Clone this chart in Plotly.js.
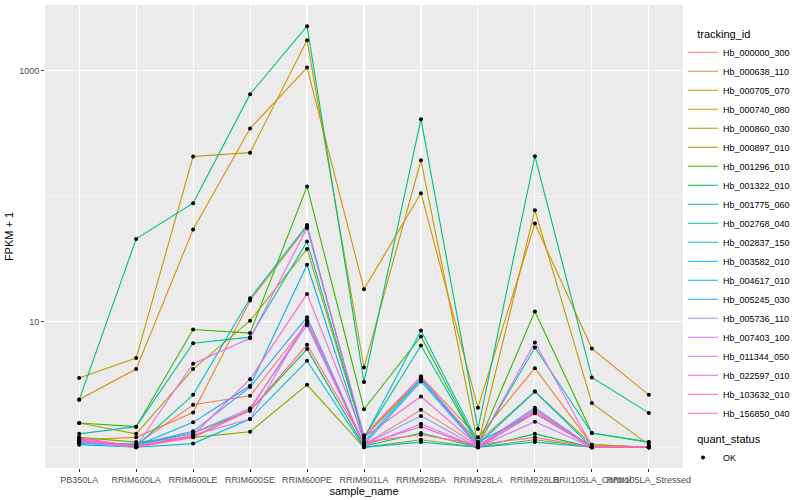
<!DOCTYPE html>
<html>
<head>
<meta charset="utf-8">
<script src="https://cdn.plot.ly/plotly-3.0.1.min.js"></script>
<style>
  html, body { margin: 0; padding: 0; background: #ffffff; }
  #chart { width: 800px; height: 500px; }
</style>
</head>
<body>
<div id="chart"></div>
<script>
// ---- data (FPKM + 1) ----
const sampleNames = ["PB350LA", "RRIM600LA", "RRIM600LE", "RRIM600SE", "RRIM600PE",
  "RRIM901LA", "RRIM928BA", "RRIM928LA", "RRIM928LB", "RRII105LA_Control", "RRII105LA_Stressed"];

const trackingIds = ["Hb_000000_300", "Hb_000638_110", "Hb_000705_070", "Hb_000740_080",
  "Hb_000860_030", "Hb_000897_010", "Hb_001296_010", "Hb_001322_010", "Hb_001775_060",
  "Hb_002768_040", "Hb_002837_150", "Hb_003582_010", "Hb_004617_010", "Hb_005245_030",
  "Hb_005736_110", "Hb_007403_100", "Hb_011344_050", "Hb_022597_010", "Hb_103632_010",
  "Hb_156850_040"];

const hb_000000_300 = [1.12, 1.05, 2.18, 2.57, 9.8, 1.05, 1.99, 1.03, 1.95, 1.02, 1.0];
const hb_000638_110 = [1.15, 1.2, 1.89, 14.8, 57, 1.2, 3.66, 1.2, 4.27, 1.05, 1.0];
const hb_000705_070 = [2.4, 4.2, 54.4, 347, 1063, 18.2, 106, 2.07, 60.7, 6.12, 2.62];
const hb_000740_080 = [3.56, 5.14, 207.6, 223, 1757, 4.32, 194, 1.05, 77.6, 2.25, 1.05];
const hb_000860_030 = [1.56, 1.28, 4.2, 10.2, 38.1, 1.2, 3.5, 1.1, 2.78, 1.05, 1.0];
const hb_000897_010 = [1.2, 1.1, 1.2, 1.33, 3.15, 1.0, 1.15, 1.0, 1.15, 1.0, 1.0];
const hb_001296_010 = [1.56, 1.46, 8.68, 8.13, 120, 2.01, 7.64, 1.05, 12.1, 1.3, 1.1];
const hb_001322_010 = [1.1, 1.05, 1.3, 1.96, 6.06, 1.02, 1.3, 1.0, 1.28, 1.0, 1.0];
const hb_001775_060 = [2.39, 45.8, 88.3, 652, 2270, 3.31, 412, 1.4, 209, 3.6, 1.88];
const hb_002768_040 = [1.28, 1.46, 6.76, 7.55, 43.6, 1.2, 6.47, 1.05, 6.24, 1.3, 1.1];
const hb_002837_150 = [1.08, 1.02, 2.62, 15.4, 59, 1.18, 8.53, 1.1, 1.87, 1.0, 1.0];
const hb_003582_010 = [1.05, 1.0, 1.07, 1.68, 4.89, 1.0, 1.1, 1.0, 1.1, 1.0, 1.0];
const hb_004617_010 = [1.1, 1.03, 1.58, 3.09, 28.5, 1.1, 3.5, 1.05, 2.78, 1.0, 1.0];
const hb_005245_030 = [1.1, 1.05, 1.34, 3.02, 10.9, 1.05, 3.35, 1.02, 2.07, 1.0, 1.0];
const hb_005736_110 = [1.12, 1.02, 1.3, 2.05, 9.4, 1.05, 1.78, 1.0, 1.9, 1.0, 1.0];
const hb_007403_100 = [1.1, 1.0, 1.25, 1.68, 10.3, 1.02, 1.54, 1.0, 1.6, 1.0, 1.0];
const hb_011344_050 = [1.15, 1.02, 4.63, 7.4, 56, 1.25, 3.66, 1.05, 6.84, 1.02, 1.0];
const hb_022597_010 = [1.15, 1.0, 1.25, 3.49, 16.7, 1.2, 2.54, 1.03, 2.0, 1.0, 1.0];
const hb_103632_010 = [1.18, 1.02, 1.22, 2.0, 10.0, 1.05, 1.46, 1.0, 1.87, 1.0, 1.0];
const hb_156850_040 = [1.2, 1.0, 1.2, 1.96, 6.56, 1.1, 1.26, 1.05, 1.2, 1.0, 1.0];

const seriesValues = [hb_000000_300, hb_000638_110, hb_000705_070, hb_000740_080,
  hb_000860_030, hb_000897_010, hb_001296_010, hb_001322_010, hb_001775_060,
  hb_002768_040, hb_002837_150, hb_003582_010, hb_004617_010, hb_005245_030,
  hb_005736_110, hb_007403_100, hb_011344_050, hb_022597_010, hb_103632_010,
  hb_156850_040];

const quantStatus = ["OK"];

// ---- styles ----
const seriesColors = ["#F8766D", "#EA8331", "#D89000", "#C09B00", "#A3A500", "#7CAE00",
  "#39B600", "#00BB4E", "#00BF7D", "#00C1A3", "#00BFC4", "#00BAE0", "#00B0F6", "#35A2FF",
  "#9590FF", "#C77CFF", "#E76BF3", "#FA62DB", "#FF62BC", "#FF6C91"];

const FONT = "Liberation Sans, Arial, Helvetica, sans-serif";

const traces = [];
trackingIds.forEach((id, i) => {
  traces.push({
    type: "scatter", mode: "lines",
    x: sampleNames, y: seriesValues[i],
    name: id,
    line: { color: seriesColors[i], width: 1.1 },
    legend: "legend",
    hoverinfo: "name+x+y"
  });
});

// black points for every observation (quant_status = OK)
const px = [], py = [];
seriesValues.forEach(vals => vals.forEach((v, j) => { px.push(sampleNames[j]); py.push(v); }));
traces.push({
  type: "scatter", mode: "markers",
  x: px, y: py,
  name: quantStatus[0],
  marker: { color: "#000000", size: 4, symbol: "circle" },
  legend: "legend2"
});

const layout = {
  width: 800, height: 500,
  margin: { l: 45, r: 117, t: 5, b: 32 },
  paper_bgcolor: "#FFFFFF",
  plot_bgcolor: "#EBEBEB",
  font: { family: FONT, size: 9, color: "#000000" },
  showlegend: true,
  xaxis: {
    type: "category",
    categoryorder: "array", categoryarray: sampleNames,
    range: [-0.6, sampleNames.length - 0.4],
    showgrid: true, gridcolor: "#FFFFFF", gridwidth: 1.1,
    zeroline: false, showline: false,
    ticks: "outside", ticklen: 3, tickwidth: 1, tickcolor: "#333333",
    tickangle: 0,
    tickfont: { family: FONT, size: 9, color: "#4D4D4D" },
    title: { text: "sample_name", font: { family: FONT, size: 11, color: "#000000" }, standoff: 0 }
  },
  yaxis: {
    type: "log",
    range: [-0.165, 3.525],
    tickmode: "array", tickvals: [10, 1000], ticktext: ["10", "1000"],
    showgrid: true, gridcolor: "#FFFFFF", gridwidth: 1.1,
    minor: { tickmode: "array", tickvals: [1, 100], showgrid: true, gridcolor: "#FFFFFF", gridwidth: 0.55, ticks: "" },
    zeroline: false, showline: false,
    ticks: "outside", ticklen: 3, tickwidth: 1, tickcolor: "#333333",
    tickfont: { family: FONT, size: 9, color: "#4D4D4D" },
    title: { text: "FPKM + 1", font: { family: FONT, size: 11, color: "#000000" }, standoff: 3 }
  },
  legend: {
    x: 1.0, xanchor: "left", y: 0.96, yanchor: "top",
    bgcolor: "rgba(0,0,0,0)", borderwidth: 0,
    itemwidth: 30,
    font: { family: FONT, size: 9, color: "#000000" },
    title: { text: "&nbsp;&nbsp;&nbsp;&nbsp;tracking_id", font: { family: FONT, size: 11, color: "#000000" } },
    tracegroupgap: 0
  },
  legend2: {
    x: 1.0, xanchor: "left", y: 0.085, yanchor: "top",
    bgcolor: "rgba(0,0,0,0)", borderwidth: 0,
    itemwidth: 30,
    font: { family: FONT, size: 9, color: "#000000" },
    title: { text: "&nbsp;&nbsp;&nbsp;&nbsp;quant_status", font: { family: FONT, size: 11, color: "#000000" } }
  }
};

Plotly.newPlot("chart", traces, layout, { displayModeBar: false, staticPlot: true });
</script>
</body>
</html>
